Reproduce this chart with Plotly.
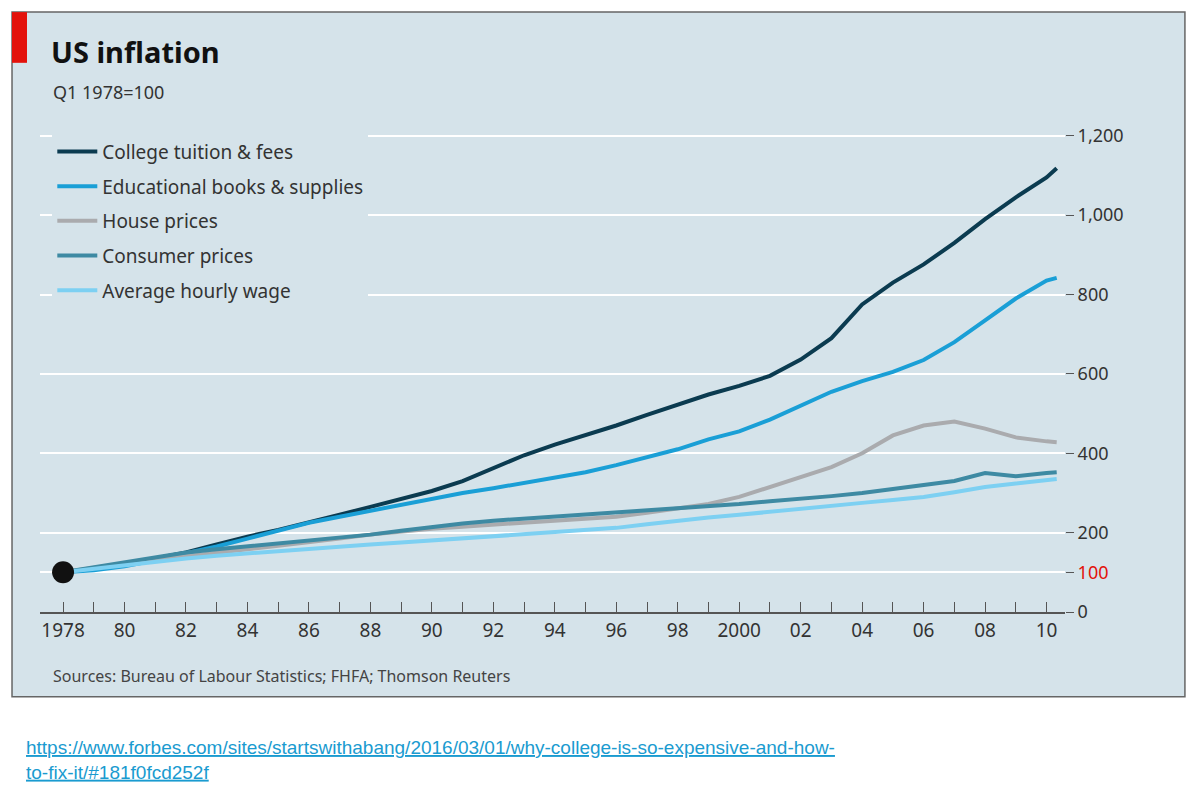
import numpy as np
import pandas as pd
import plotly.graph_objects as go

years = [1978, 1979, 1980, 1981, 1982, 1983, 1984, 1985, 1986, 1987, 1988, 1989, 1990, 1991, 1992, 1993, 1994,
         1995, 1996, 1997, 1998, 1999, 2000, 2001, 2002, 2003, 2004, 2005, 2006, 2007, 2008, 2009, 2010, 2010.33]
tuition = [100, 108, 120, 135, 150, 170, 190, 207, 225, 245, 265, 285, 305, 330, 362, 395, 422,
           445, 470, 497, 523, 548, 570, 595, 636, 690, 775, 830, 876, 930, 990, 1045, 1095, 1118]
books = [100, 105, 115, 130, 148, 165, 185, 205, 225, 240, 255, 270, 287, 300, 312, 325, 337,
         352, 370, 390, 410, 435, 455, 485, 520, 555, 582, 605, 635, 680, 735, 790, 835, 842]
house = [100, 112, 122, 132, 140, 150, 158, 167, 175, 185, 195, 203, 210, 215, 220, 224, 228,
         234, 240, 250, 260, 272, 290, 315, 340, 365, 400, 445, 470, 480, 462, 440, 430, 428]
consumer = [100, 112, 125, 138, 150, 158, 165, 172, 180, 188, 195, 205, 215, 223, 230, 235, 240,
            246, 252, 257, 262, 267, 272, 279, 285, 292, 300, 310, 320, 330, 350, 342, 350, 352]
wage = [100, 109, 118, 127, 135, 142, 148, 154, 160, 165, 170, 175, 180, 185, 190, 195, 200,
        206, 212, 221, 230, 238, 245, 253, 260, 268, 275, 282, 290, 302, 315, 324, 333, 335]

series = ['College tuition & fees', 'Educational books & supplies', 'House prices', 'Consumer prices', 'Average hourly wage']
colors = ['#0b3b50', '#1a9fd6', '#aaabae', '#3e8aa3', '#7dd0f2']
data = pd.DataFrame({'Year': years, series[0]: tuition, series[1]: books, series[2]: house,
                     series[3]: consumer, series[4]: wage})

x_ticks = list(range(1978, 2011))
x_text = ['1978' if y == 1978 else ('2000' if y == 2000 else (str(y)[2:] if y % 2 == 0 else '')) for y in x_ticks]
y_ticks = [0, 100, 200, 400, 600, 800, 1000, 1200]
y_text = ['0', '<span style="color:#e3120b">100</span>', '200', '400', '600', '800', '1,000', '1,200']

bg = '#d5e3ea'
fig = go.Figure()
for name, col in zip(series, colors):
    fig.add_trace(go.Scatter(x = data['Year'], y = data[name], name = name, mode = 'lines', legendgroup = name,
                             line = dict(color = col, width = 4)))
fig.add_hline(y = 100, line_color = '#e3120b', line_width = 2, layer = 'below')
fig.add_trace(go.Scatter(x = [1978], y = [100], mode = 'markers', showlegend = False,
                         marker = dict(color = '#111111', size = 22)))

# chart frame and red tag
fig.add_shape(type = 'rect', xref = 'paper', yref = 'paper', x0 = -0.0273, x1 = 1.117, y0 = -0.169, y1 = 1.195,
              fillcolor = bg, line = dict(color = '#666666', width = 1.5), layer = 'below')
fig.add_shape(type = 'rect', xref = 'paper', yref = 'paper', x0 = -0.0273, x1 = -0.0127, y0 = 1.094, y1 = 1.195,
              fillcolor = '#e3120b', line_width = 0, layer = 'below')

fig.add_annotation(text = '<b>US inflation</b>', xref = 'paper', yref = 'paper', x = 0.009, y = 1.116,
                   xanchor = 'left', yanchor = 'middle', showarrow = False, font = dict(size = 29, color = '#111111'))
fig.add_annotation(text = 'Q1 1978=100', xref = 'paper', yref = 'paper', x = 0.011, y = 1.036,
                   xanchor = 'left', yanchor = 'middle', showarrow = False, font = dict(size = 18, color = '#333333'))
fig.add_annotation(text = 'Sources: Bureau of Labour Statistics; FHFA; Thomson Reuters', xref = 'paper', yref = 'paper',
                   x = 0.011, y = -0.127, xanchor = 'left', yanchor = 'middle', showarrow = False,
                   font = dict(size = 16, color = '#444444'))
fig.add_annotation(text = '<u>https://www.forbes.com/sites/startswithabang/2016/03/01/why-college-is-so-expensive-and-how-</u><br><u>to-fix-it/#181f0fcd252f</u>',
                   xref = 'paper', yref = 'paper', x = -0.016, y = -0.295, xanchor = 'left', yanchor = 'middle',
                   align = 'left', showarrow = False, font = dict(family = 'Liberation Sans', size = 19, color = '#1a9bd0'))

fig.update_layout(width = 1184, height = 783, margin = dict(l = 32, r = 127, t = 102, b = 179),
                  paper_bgcolor = 'white', plot_bgcolor = bg,
                  font = dict(family = 'Noto Sans', color = '#333333'),
                  legend = dict(x = 0.012, y = 0.955, xanchor = 'left', yanchor = 'top', bgcolor = bg,
                                font = dict(size = 19, color = '#333333'), itemwidth = 40, tracegroupgap = 7))
fig.update_xaxes(range = [1977.25, 2010.6], tickvals = x_ticks, ticktext = x_text, ticks = 'inside', ticklen = 10,
                 tickcolor = '#555555', showline = True, linecolor = '#555555', linewidth = 1.5, showgrid = False,
                 zeroline = False, tickfont = dict(size = 19, color = '#333333'))
fig.update_yaxes(range = [0, 1265], side = 'right', tickvals = y_ticks, ticktext = y_text, showgrid = True,
                 gridcolor = 'white', gridwidth = 2, zeroline = False, ticks = 'outside', ticklen = 8,
                 tickcolor = '#555555', tickfont = dict(size = 18, color = '#333333'))
fig.write_html('out.html')
